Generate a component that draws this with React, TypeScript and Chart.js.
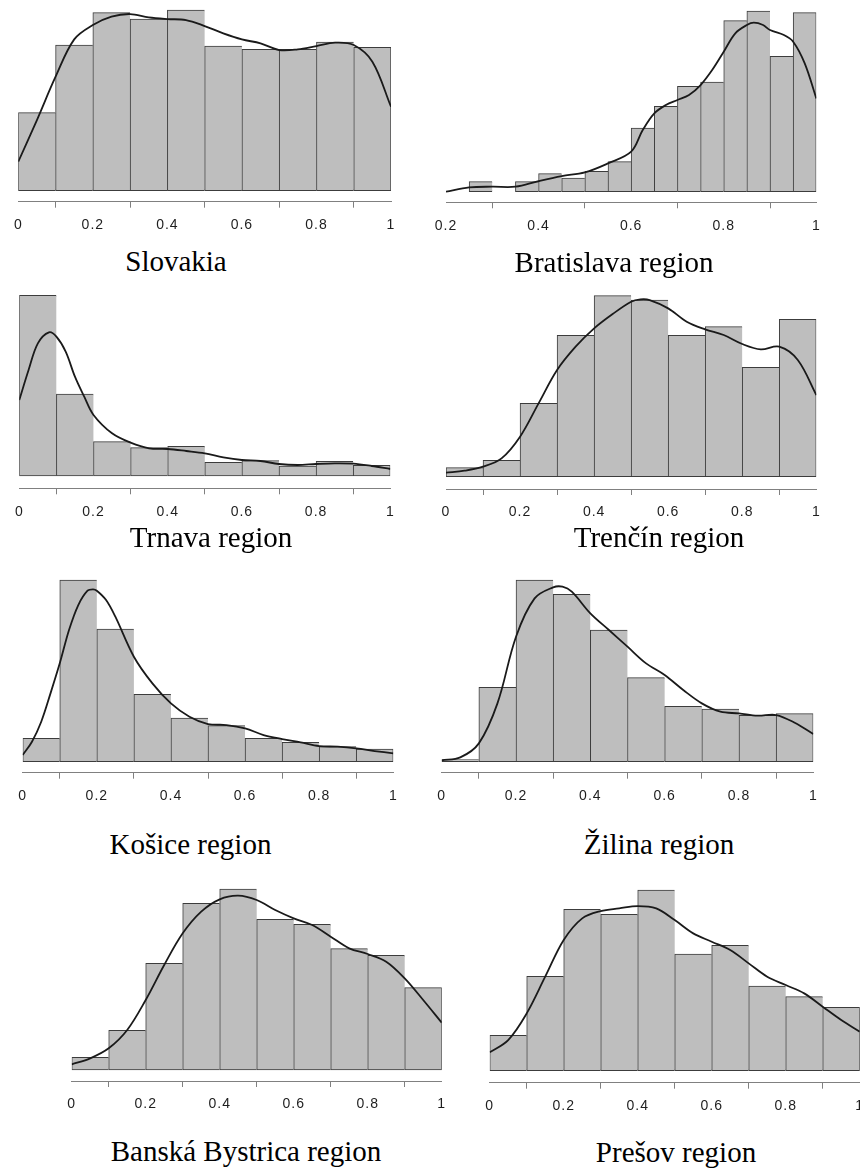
import React, { useEffect, useRef } from "react";
import { Chart, registerables } from "chart.js";

Chart.register(...registerables);

// ---------- data (y units are relative bar heights) ----------
const binStarts10 = [0, 0.1, 0.2, 0.3, 0.4, 0.5, 0.6, 0.7, 0.8, 0.9];
const bratislavaBinStarts = [0.2, 0.25, 0.3, 0.35, 0.4, 0.45, 0.5, 0.55, 0.6, 0.65, 0.7, 0.75, 0.8, 0.85, 0.9, 0.95];
const densityGrid = [0, 0.05, 0.1, 0.15, 0.2, 0.25, 0.3, 0.35, 0.4, 0.45, 0.5, 0.55, 0.6, 0.65, 0.7, 0.75, 0.8, 0.85, 0.9, 0.95, 1];
const tickLabels10 = ["0", "0.2", "0.4", "0.6", "0.8", "1"];
const tickLabelsBratislava = ["0.2", "0.4", "0.6", "0.8", "1"];

const slovakiaCounts = [234, 437, 534, 515, 542, 434, 424, 424, 446, 430];
const slovakiaDensity = [87, 212, 342, 454, 497, 522, 530, 520, 515, 512, 494, 472, 454, 442, 422, 424, 434, 444, 437, 387, 252];

const bratislavaCounts = [0, 30, 0, 30, 54, 41, 61, 90, 191, 256, 316, 329, 513, 542, 406, 537];
const bratislavaDensityX = [0.2, 0.25, 0.3, 0.35, 0.4, 0.45, 0.5, 0.55, 0.6, 0.625, 0.65, 0.675, 0.7, 0.725, 0.75, 0.775, 0.8, 0.825, 0.85, 0.865, 0.885, 0.9, 0.93, 0.95, 0.975, 1];
const bratislavaDensity = [0, 13, 15, 15, 32, 47, 58, 85, 120, 185, 235, 260, 275, 290, 320, 365, 420, 475, 500, 507, 500, 485, 470, 450, 385, 280];

const trnavaCounts = [542, 246, 103, 85, 89, 41, 46, 30, 44, 32];
const trnavaDensityX = [0, 0.025, 0.05, 0.08, 0.1, 0.125, 0.15, 0.175, 0.2, 0.25, 0.3, 0.35, 0.4, 0.45, 0.5, 0.55, 0.6, 0.65, 0.7, 0.75, 0.8, 0.85, 0.9, 0.95, 1];
const trnavaDensity = [228, 318, 398, 431, 418, 373, 298, 238, 183, 128, 100, 83, 81, 75, 68, 56, 48, 45, 36, 33, 36, 38, 37, 30, 21];

const trencinCounts = [27, 49, 220, 424, 543, 530, 424, 450, 328, 472];
const trencinDensityX = [0, 0.05, 0.1, 0.15, 0.2, 0.25, 0.3, 0.35, 0.4, 0.45, 0.5, 0.525, 0.55, 0.6, 0.65, 0.7, 0.75, 0.8, 0.85, 0.9, 0.95, 1];
const trencinDensity = [12, 18, 30, 55, 120, 220, 320, 390, 445, 488, 525, 532, 530, 505, 465, 442, 425, 398, 382, 390, 350, 245];

const kosiceCounts = [70, 545, 398, 202, 131, 108, 70, 58, 45, 38];
const kosiceDensityX = [0, 0.025, 0.05, 0.075, 0.1, 0.125, 0.15, 0.175, 0.19, 0.2, 0.225, 0.25, 0.3, 0.35, 0.4, 0.45, 0.5, 0.55, 0.6, 0.65, 0.7, 0.75, 0.8, 0.85, 0.9, 0.95, 1];
const kosiceDensity = [20, 60, 120, 205, 295, 395, 470, 513, 517, 513, 485, 435, 315, 235, 175, 135, 113, 110, 100, 80, 68, 58, 47, 45, 40, 32, 25];

const zilinaCounts = [6, 223, 545, 502, 395, 252, 166, 158, 139, 144];
const zilinaDensityX = [0, 0.05, 0.1, 0.15, 0.2, 0.25, 0.3, 0.325, 0.35, 0.4, 0.45, 0.5, 0.55, 0.6, 0.65, 0.7, 0.75, 0.8, 0.85, 0.9, 0.95, 1];
const zilinaDensity = [4, 13, 55, 175, 375, 490, 523, 525, 510, 445, 395, 345, 295, 260, 215, 175, 150, 145, 138, 140, 117, 83];

const banskaCounts = [38, 119, 320, 500, 543, 452, 437, 364, 344, 247];
const banskaDensity = [17, 35, 65, 120, 210, 315, 410, 475, 512, 523, 510, 480, 455, 435, 400, 365, 348, 325, 275, 210, 142];

const presovCounts = [106, 283, 484, 469, 542, 350, 376, 254, 222, 190];
const presovDensity = [55, 92, 172, 282, 392, 457, 479, 487, 494, 487, 452, 412, 387, 362, 322, 282, 257, 232, 192, 152, 117];

// ---------- layout ----------
type Spec = {
  title: string;
  bins: number[];
  binWidth: number;
  counts: number[];
  densX: number[];
  densY: number[];
  xMin: number;
  ticks: string[];
  x0: number; x1: number; yBase: number; yAxis: number;
  titleX: number; titleY: number;
};

const panels: Spec[] = [
  { title: "Slovakia", bins: binStarts10, binWidth: 0.1, counts: slovakiaCounts, densX: densityGrid, densY: slovakiaDensity, xMin: 0, ticks: tickLabels10,
    x0: 18.3, x1: 391, yBase: 190.7, yAxis: 201.7, titleX: 176, titleY: 271.7 },
  { title: "Bratislava region", bins: bratislavaBinStarts, binWidth: 0.05, counts: bratislavaCounts, densX: bratislavaDensityX, densY: bratislavaDensity, xMin: 0.2, ticks: tickLabelsBratislava,
    x0: 446, x1: 816.3, yBase: 191.7, yAxis: 202.3, titleX: 614, titleY: 272 },
  { title: "Trnava region", bins: binStarts10, binWidth: 0.1, counts: trnavaCounts, densX: trnavaDensityX, densY: trnavaDensity, xMin: 0, ticks: tickLabels10,
    x0: 19.3, x1: 390.3, yBase: 476, yAxis: 488.3, titleX: 211, titleY: 547.5 },
  { title: "Trenčín region", bins: binStarts10, binWidth: 0.1, counts: trencinCounts, densX: trencinDensityX, densY: trencinDensity, xMin: 0, ticks: tickLabels10,
    x0: 446, x1: 816.3, yBase: 476.7, yAxis: 489, titleX: 659, titleY: 547.5 },
  { title: "Košice region", bins: binStarts10, binWidth: 0.1, counts: kosiceCounts, densX: kosiceDensityX, densY: kosiceDensity, xMin: 0, ticks: tickLabels10,
    x0: 22.7, x1: 393.3, yBase: 761.7, yAxis: 772.7, titleX: 190.5, titleY: 854 },
  { title: "Žilina region", bins: binStarts10, binWidth: 0.1, counts: zilinaCounts, densX: zilinaDensityX, densY: zilinaDensity, xMin: 0, ticks: tickLabels10,
    x0: 441.7, x1: 813.3, yBase: 761.7, yAxis: 772.7, titleX: 659, titleY: 854 },
  { title: "Banská Bystrica region", bins: binStarts10, binWidth: 0.1, counts: banskaCounts, densX: densityGrid, densY: banskaDensity, xMin: 0, ticks: tickLabels10,
    x0: 71.7, x1: 441.7, yBase: 1070, yAxis: 1081, titleX: 246, titleY: 1161.7 },
  { title: "Prešov region", bins: binStarts10, binWidth: 0.1, counts: presovCounts, densX: densityGrid, densY: presovDensity, xMin: 0, ticks: tickLabels10,
    x0: 489.7, x1: 859.7, yBase: 1070.7, yAxis: 1082.7, titleX: 676, titleY: 1162.3 },
];

const UNITS_PER_PX = 3;
const Y_TOP = 560;
const AXIS_H = 40;
const SIDE = 30;

function HistPanel({ spec }: { spec: Spec }) {
  const ref = useRef<HTMLCanvasElement>(null);
  const chartTop = spec.yBase - Y_TOP / UNITS_PER_PX;
  const canvasTop = Math.floor(chartTop);
  const padTop = chartTop - canvasTop;
  const areaH = spec.yAxis - chartTop;
  const canvasH = Math.ceil(padTop + areaH + AXIS_H);
  const padBottom = canvasH - padTop - areaH - AXIS_H;
  const canvasLeft = Math.floor(spec.x0 - SIDE);
  const padLeft = spec.x0 - canvasLeft;
  const areaW = spec.x1 - spec.x0;
  const canvasW = Math.ceil(padLeft + areaW + SIDE);
  const padRight = canvasW - padLeft - areaW;

  useEffect(() => {
    if (!ref.current) return;
    const last = spec.counts.length - 1;
    const chart = new Chart(ref.current, {
      type: "bar",
      data: {
        datasets: [
          {
            type: "line",
            data: spec.densX.map((x, i) => ({ x, y: spec.densY[i] })),
            borderColor: "#1a1a1a",
            borderWidth: 1.8,
            pointRadius: 0,
            tension: 0.35,
            fill: false,
            order: 0,
          } as any,
          {
            type: "bar",
            data: spec.bins.map((b, i) => ({ x: b + spec.binWidth / 2, y: spec.counts[i] })),
            backgroundColor: "#bebebe",
            borderColor: "#3c3c3c",
            borderWidth: (ctx: any) => ({ top: 1, bottom: 1, left: 1, right: ctx.dataIndex === last ? 1 : 0 }),
            borderSkipped: false,
            barPercentage: 1,
            categoryPercentage: 1,
            order: 1,
          } as any,
        ],
      },
      options: {
        responsive: false,
        animation: false,
        events: [],
        layout: { padding: { top: padTop, bottom: padBottom, left: padLeft, right: padRight } },
        plugins: { legend: { display: false }, tooltip: { enabled: false } },
        scales: {
          x: {
            type: "linear",
            min: spec.xMin,
            max: 1,
            offset: false,
            grid: { display: true, drawOnChartArea: false, drawTicks: true, tickLength: 6, color: "#808080", tickColor: "#808080", lineWidth: 1 },
            border: { display: true, color: "#808080", width: 1 },
            ticks: {
              stepSize: 0.2,
              padding: 9,
              color: "#1e1e1e",
              autoSkip: false,
              maxRotation: 0,
              font: { family: '"Liberation Sans", Arial, sans-serif', size: 14 },
              callback: (v: any, i: number) => spec.ticks[i] ?? String(Number(Number(v).toFixed(1))),
            },
            afterFit: (s: any) => { s.height = AXIS_H; },
          } as any,
          y: { display: false, min: -(spec.yAxis - spec.yBase) * UNITS_PER_PX, max: Y_TOP },
        },
      },
      plugins: [{ id: "letterSpacing", beforeDraw: (c: any) => { c.ctx.letterSpacing = "1px"; } }],
    });
    return () => chart.destroy();
  }, []);

  return (
    <>
      <canvas
        ref={ref}
        width={canvasW}
        height={canvasH}
        style={{ position: "absolute", left: canvasLeft, top: canvasTop, width: canvasW, height: canvasH }}
      />
      <div
        style={{
          position: "absolute",
          left: spec.titleX,
          top: spec.titleY - 24.3,
          transform: "translateX(-50%)",
          font: '29px "Liberation Serif", "Times New Roman", serif',
          lineHeight: "29px",
          whiteSpace: "nowrap",
          color: "#000",
        }}
      >
        {spec.title}
      </div>
    </>
  );
}

export default function App() {
  return (
    <div style={{ position: "fixed", left: 0, top: 0, width: 860, height: 1171, overflow: "hidden", background: "#fff" }}>
      {panels.map((p) => (
        <HistPanel key={p.title} spec={p} />
      ))}
    </div>
  );
}
